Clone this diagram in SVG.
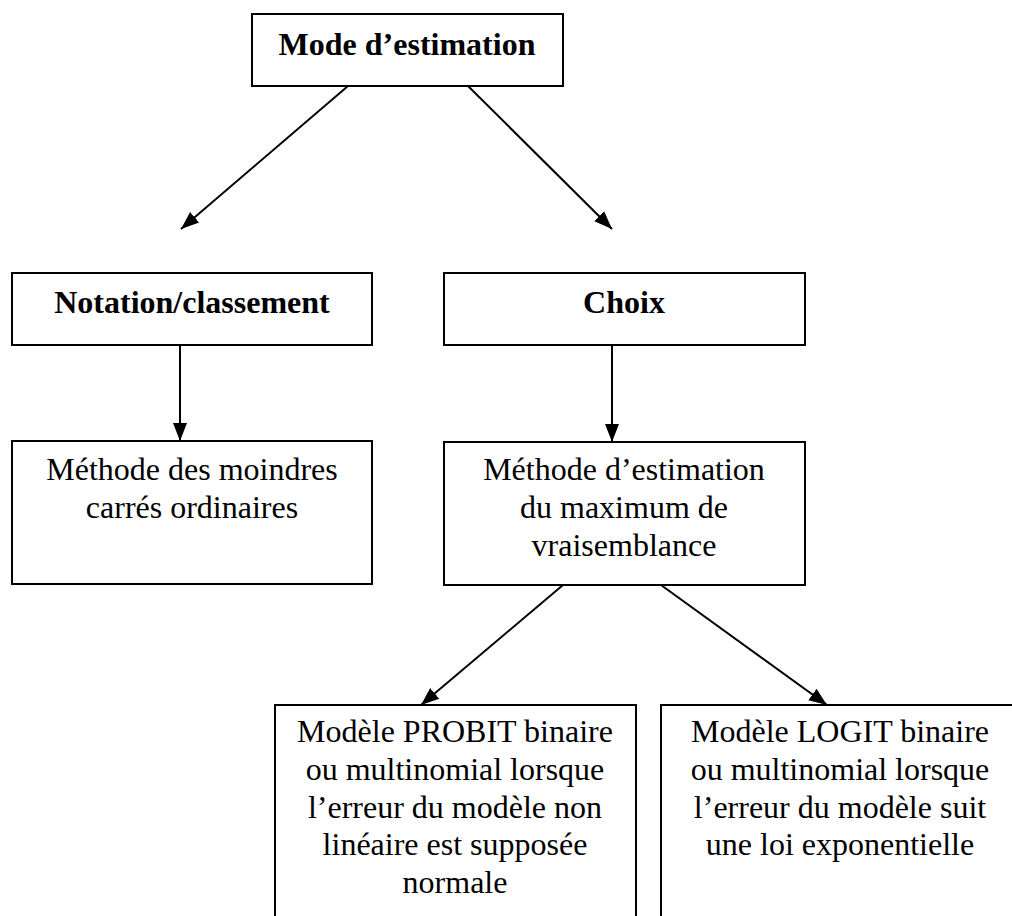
<svg xmlns="http://www.w3.org/2000/svg" width="1012" height="916" viewBox="0 0 1012 916">
<style>
.box{fill:#fff;stroke:#000;stroke-width:2}
.t{font-family:"Liberation Serif","Times New Roman",serif;font-size:32px;fill:#000;text-anchor:middle}
.b{font-weight:bold}
.c{stroke:#000;stroke-width:2;fill:none;marker-end:url(#ah)}
</style>
<defs>
<marker id="ah" markerUnits="userSpaceOnUse" markerWidth="20" markerHeight="16" viewBox="0 0 20 16" refX="18" refY="8" orient="auto">
<path d="M0,1 L18,8 L0,15 Z" fill="#000"/>
</marker>
</defs>
<rect width="1012" height="916" fill="#fff"/>
<g id="connectors">
<line class="c" x1="348" y1="86" x2="181" y2="229"/>
<line class="c" x1="468" y1="86" x2="612" y2="229"/>
<line class="c" x1="180" y1="345" x2="180" y2="441"/>
<line class="c" x1="612" y1="345" x2="612" y2="442"/>
<line class="c" x1="563" y1="585" x2="421" y2="705"/>
<line class="c" x1="661" y1="585" x2="827" y2="705"/>
</g>
<g id="mode">
<rect class="box" x="252" y="14" width="311" height="72"/>
<text class="t b" x="407" y="55">Mode d’estimation</text>
</g>
<g id="notation">
<rect class="box" x="12" y="273" width="360" height="72"/>
<text class="t b" x="192" y="313">Notation/classement</text>
</g>
<g id="choix">
<rect class="box" x="444" y="273" width="361" height="72"/>
<text class="t b" x="624" y="313">Choix</text>
</g>
<g id="mco">
<rect class="box" x="12" y="441" width="360" height="143"/>
<text class="t" x="192" y="480">Méthode des moindres</text>
<text class="t" x="192" y="518">carrés ordinaires</text>
</g>
<g id="mv">
<rect class="box" x="444" y="442" width="361" height="143"/>
<text class="t" x="624" y="480">Méthode d’estimation</text>
<text class="t" x="624" y="518">du maximum de</text>
<text class="t" x="624" y="556">vraisemblance</text>
</g>
<g id="probit">
<rect class="box" x="275" y="705" width="361" height="240"/>
<text class="t" x="455" y="742">Modèle PROBIT binaire</text>
<text class="t" x="455" y="780">ou multinomial lorsque</text>
<text class="t" x="455" y="818">l’erreur du modèle non</text>
<text class="t" x="455" y="855">linéaire est supposée</text>
<text class="t" x="455" y="893">normale</text>
</g>
<g id="logit">
<rect class="box" x="661" y="705" width="360" height="240"/>
<text class="t" x="840" y="742">Modèle LOGIT binaire</text>
<text class="t" x="840" y="780">ou multinomial lorsque</text>
<text class="t" x="840" y="818">l’erreur du modèle suit</text>
<text class="t" x="840" y="855">une loi exponentielle</text>
</g>
</svg>
